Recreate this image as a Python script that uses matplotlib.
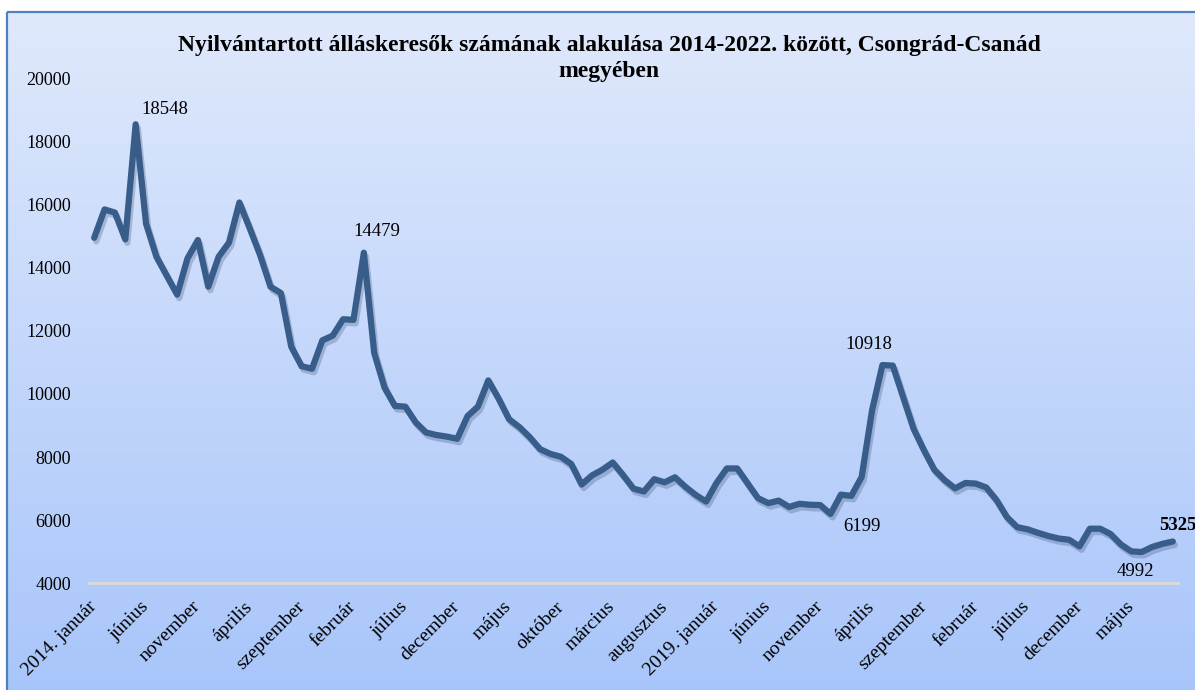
import numpy as np
import matplotlib
matplotlib.use("Agg")
import matplotlib.pyplot as plt
import matplotlib.patheffects as pe
from matplotlib.colors import LinearSegmentedColormap
from matplotlib.patches import Rectangle

plt.rcParams['font.family'] = ['Liberation Serif', 'DejaVu Serif']

title = ("Nyilvántartott álláskeresők számának alakulása 2014-2022. között, Csongrád-Csanád\n"
         "megyében")

# havi adatok, 2014. január - 2022. szeptember
values = [
    14950, 15850, 15750, 14900, 18548, 15400, 14350, 13750, 13150, 14300, 14880, 13400,  # 2014
    14350, 14800, 16070, 15250, 14400, 13400, 13200, 11500, 10880, 10800, 11700, 11850,  # 2015
    12370, 12350, 14479, 11300, 10200, 9620, 9600, 9100, 8780, 8700, 8650, 8580,         # 2016
    9300, 9600, 10430, 9850, 9200, 8950, 8630, 8250, 8100, 8010, 7780, 7130,             # 2017
    7420, 7600, 7830, 7430, 7000, 6910, 7300, 7200, 7360, 7060, 6800, 6590,              # 2018
    7180, 7640, 7640, 7170, 6700, 6540, 6620, 6420, 6520, 6490, 6480, 6199,              # 2019
    6810, 6770, 7370, 9480, 10918, 10900, 9900, 8900, 8220, 7600, 7270, 7010,            # 2020
    7180, 7160, 7040, 6640, 6100, 5780, 5710, 5600, 5500, 5420, 5380, 5170,              # 2021
    5730, 5730, 5560, 5230, 5010, 4992, 5150, 5250, 5325,                                # 2022
]

tick_labels = ["2014. január", "június", "november", "április", "szeptember", "február",
               "július", "december", "május", "október", "március", "augusztus",
               "2019. január", "június", "november", "április", "szeptember", "február",
               "július", "december", "május"]
tick_step = 5

# feliratozott pontok
labelled = [4, 26, 76, 71, 101, 104]

W, H = 1195, 690
fig = plt.figure(figsize=(W / 100, H / 100), dpi=100)

# hatter: szines atmenet + keret
bg = fig.add_axes([0, 0, 1, 1], zorder=-10)
bg.set_xlim(0, W)
bg.set_ylim(H, 0)
bg.axis('off')
cmap = LinearSegmentedColormap.from_list('bg', ['#e0e9fc', '#a6c4fa'])
grad = np.linspace(0, 1, 256).reshape(-1, 1)
bg.imshow(grad, cmap=cmap, aspect='auto', extent=[7, 1230, 720, 12], origin='upper')
bg.add_patch(Rectangle((7, 12), 1250, 720, fill=False, edgecolor='#4f81bd', lw=1.6))

ax = fig.add_axes([89 / W, 1 - 583.3 / H, 1089 / W, 504.8 / H])
ax.patch.set_alpha(0)

x = np.arange(len(values))
ax.plot(x, values, color='#385d8a', lw=4.5, solid_joinstyle='round', solid_capstyle='round',
        path_effects=[pe.SimpleLineShadow(offset=(1.5, -2.5), shadow_color='#2a3d5c', alpha=0.25),
                      pe.Normal()])

ax.set_xlim(-0.5, len(values) - 0.5)
ax.set_ylim(4000, 20000)
ax.set_yticks(range(4000, 20001, 2000))
ax.set_xticks(x[::tick_step])
ax.set_xticklabels(tick_labels, rotation=45, ha='right', va='center', rotation_mode='anchor', fontsize=14)
ax.tick_params(axis='y', length=0, pad=13, labelsize=13)
ax.tick_params(axis='x', length=0, pad=15)

for s in ['left', 'right', 'top']:
    ax.spines[s].set_visible(False)
ax.spines['bottom'].set_color('#d9d9d9')
ax.spines['bottom'].set_linewidth(2.2)

offsets = {4: (29, 15), 26: (13, 21), 76: (-14, 21), 71: (31, -13), 101: (-6, -19), 104: (-14, 16)}
for i in labelled:
    dx, dy = offsets[i]
    last = i == len(values) - 1
    ax.annotate(f"{values[i]}", (x[i], values[i]), xytext=(dx, dy), textcoords='offset pixels',
                ha='left' if last else 'center', va='center', fontsize=13.5,
                fontweight='bold' if last else 'normal', annotation_clip=False)

fig.text(609 / W, 1 - 58.5 / H, title, ha='center', va='center', fontsize=17,
         fontweight='bold', linespacing=1.3)

fig.savefig('out.png', dpi=100)
